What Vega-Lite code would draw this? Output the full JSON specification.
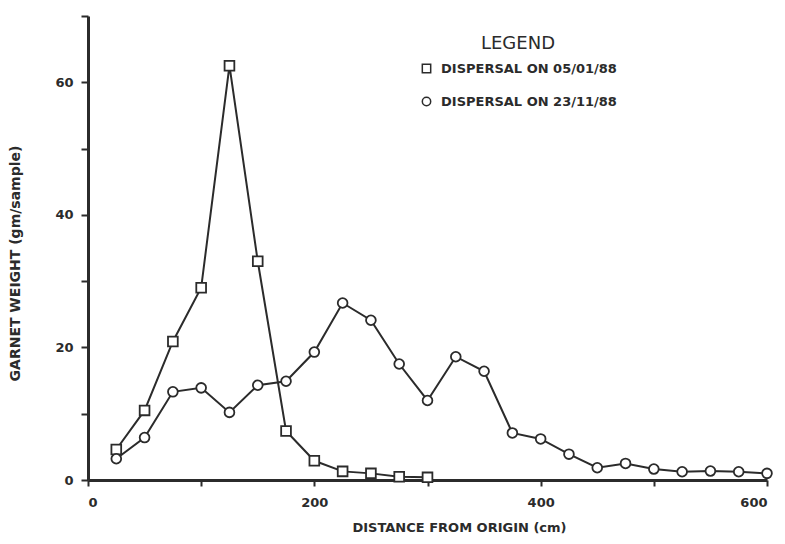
{
  "$schema": "https://vega.github.io/schema/vega-lite/v6.json",
  "autosize": {"type": "none"},
  "width": 679,
  "height": 464,
  "padding": {"left": 88, "top": 16, "right": 18, "bottom": 64},
  "background": "white",
  "data": {
    "values": [
      {"series": "DISPERSAL ON 05/01/88", "distance": 25, "weight": 4.6},
      {"series": "DISPERSAL ON 05/01/88", "distance": 50, "weight": 10.5},
      {"series": "DISPERSAL ON 05/01/88", "distance": 75, "weight": 20.9},
      {"series": "DISPERSAL ON 05/01/88", "distance": 100, "weight": 29.0},
      {"series": "DISPERSAL ON 05/01/88", "distance": 125, "weight": 62.5},
      {"series": "DISPERSAL ON 05/01/88", "distance": 150, "weight": 33.0},
      {"series": "DISPERSAL ON 05/01/88", "distance": 175, "weight": 7.4},
      {"series": "DISPERSAL ON 05/01/88", "distance": 200, "weight": 2.9},
      {"series": "DISPERSAL ON 05/01/88", "distance": 225, "weight": 1.3},
      {"series": "DISPERSAL ON 05/01/88", "distance": 250, "weight": 1.0},
      {"series": "DISPERSAL ON 05/01/88", "distance": 275, "weight": 0.5},
      {"series": "DISPERSAL ON 05/01/88", "distance": 300, "weight": 0.4},
      {"series": "DISPERSAL ON 23/11/88", "distance": 25, "weight": 3.2},
      {"series": "DISPERSAL ON 23/11/88", "distance": 50, "weight": 6.4},
      {"series": "DISPERSAL ON 23/11/88", "distance": 75, "weight": 13.3},
      {"series": "DISPERSAL ON 23/11/88", "distance": 100, "weight": 13.9},
      {"series": "DISPERSAL ON 23/11/88", "distance": 125, "weight": 10.2},
      {"series": "DISPERSAL ON 23/11/88", "distance": 150, "weight": 14.3},
      {"series": "DISPERSAL ON 23/11/88", "distance": 175, "weight": 14.9},
      {"series": "DISPERSAL ON 23/11/88", "distance": 200, "weight": 19.3},
      {"series": "DISPERSAL ON 23/11/88", "distance": 225, "weight": 26.7},
      {"series": "DISPERSAL ON 23/11/88", "distance": 250, "weight": 24.1},
      {"series": "DISPERSAL ON 23/11/88", "distance": 275, "weight": 17.5},
      {"series": "DISPERSAL ON 23/11/88", "distance": 300, "weight": 12.0},
      {"series": "DISPERSAL ON 23/11/88", "distance": 325, "weight": 18.6},
      {"series": "DISPERSAL ON 23/11/88", "distance": 350, "weight": 16.4},
      {"series": "DISPERSAL ON 23/11/88", "distance": 375, "weight": 7.1},
      {"series": "DISPERSAL ON 23/11/88", "distance": 400, "weight": 6.2},
      {"series": "DISPERSAL ON 23/11/88", "distance": 425, "weight": 3.9},
      {"series": "DISPERSAL ON 23/11/88", "distance": 450, "weight": 1.85},
      {"series": "DISPERSAL ON 23/11/88", "distance": 475, "weight": 2.5},
      {"series": "DISPERSAL ON 23/11/88", "distance": 500, "weight": 1.65},
      {"series": "DISPERSAL ON 23/11/88", "distance": 525, "weight": 1.25},
      {"series": "DISPERSAL ON 23/11/88", "distance": 550, "weight": 1.35},
      {"series": "DISPERSAL ON 23/11/88", "distance": 575, "weight": 1.25},
      {"series": "DISPERSAL ON 23/11/88", "distance": 600, "weight": 1.0}
    ]
  },
  "encoding": {
    "x": {
      "field": "distance",
      "type": "quantitative",
      "scale": {"domain": [0, 600], "nice": false, "zero": true},
      "axis": {
        "title": "DISTANCE FROM ORIGIN (cm)",
        "values": [0, 100, 200, 300, 400, 500, 600],
        "labelExpr": "datum.value % 200 == 0 ? datum.label : ''",
        "grid": false,
        "domainColor": "#2b2b2b",
        "domainWidth": 3,
        "tickColor": "#2b2b2b",
        "tickWidth": 2,
        "tickSize": 6,
        "labelFont": "DejaVu Sans",
        "labelFontWeight": "bold",
        "labelFontSize": 13,
        "labelColor": "#2b2b2b",
        "labelPadding": 10,
        "titleFont": "DejaVu Sans",
        "titleFontWeight": "bold",
        "titleFontSize": 13,
        "titleColor": "#2b2b2b",
        "titleX": 371,
        "titleY": 47,
        "titleAlign": "center",
        "titleBaseline": "middle"
      }
    },
    "y": {
      "field": "weight",
      "type": "quantitative",
      "scale": {"domain": [0, 70], "nice": false},
      "axis": {
        "title": "GARNET WEIGHT (gm/sample)",
        "values": [0, 10, 20, 30, 40, 50, 60, 70],
        "labelExpr": "datum.value % 20 == 0 ? datum.label : ''",
        "grid": false,
        "domainColor": "#2b2b2b",
        "domainWidth": 3,
        "tickColor": "#2b2b2b",
        "tickWidth": 2,
        "tickSize": 7,
        "labelFont": "DejaVu Sans",
        "labelFontWeight": "bold",
        "labelFontSize": 13,
        "labelColor": "#2b2b2b",
        "labelPadding": 8,
        "titleFont": "DejaVu Sans",
        "titleFontWeight": "bold",
        "titleFontSize": 14,
        "titleColor": "#2b2b2b",
        "titleX": -73,
        "titleY": 247,
        "titleAngle": -90,
        "titleAlign": "center",
        "titleBaseline": "middle"
      }
    }
  },
  "layer": [
    {
      "mark": {"type": "line", "color": "#2b2b2b", "strokeWidth": 2},
      "encoding": {"detail": {"field": "series", "type": "nominal"}}
    },
    {
      "mark": {"type": "point", "filled": true, "fill": "white", "stroke": "#2b2b2b", "strokeWidth": 1.8, "size": 95, "opacity": 1},
      "encoding": {
        "shape": {
          "field": "series",
          "type": "nominal",
          "scale": {"domain": ["DISPERSAL ON 05/01/88", "DISPERSAL ON 23/11/88"], "range": ["square", "circle"]},
          "legend": {
            "title": "LEGEND",
            "orient": "none",
            "legendX": 332,
            "legendY": 19,
            "titleAnchor": "middle",
            "titleFont": "DejaVu Sans",
            "titleFontWeight": "normal",
            "titleFontSize": 18,
            "titleColor": "#2b2b2b",
            "titlePadding": 9,
            "labelFont": "DejaVu Sans",
            "labelFontWeight": "bold",
            "labelFontSize": 13,
            "labelColor": "#2b2b2b",
            "labelLimit": 400,
            "labelOffset": 8,
            "symbolSize": 70,
            "rowPadding": 18,
            "encode": {
              "symbols": {
                "update": {
                  "stroke": {"value": "#2b2b2b"},
                  "fill": {"value": "white"},
                  "strokeWidth": {"value": 1.8},
                  "opacity": {"value": 1}
                }
              }
            }
          }
        }
      }
    }
  ],
  "config": {"view": {"stroke": null}}
}
